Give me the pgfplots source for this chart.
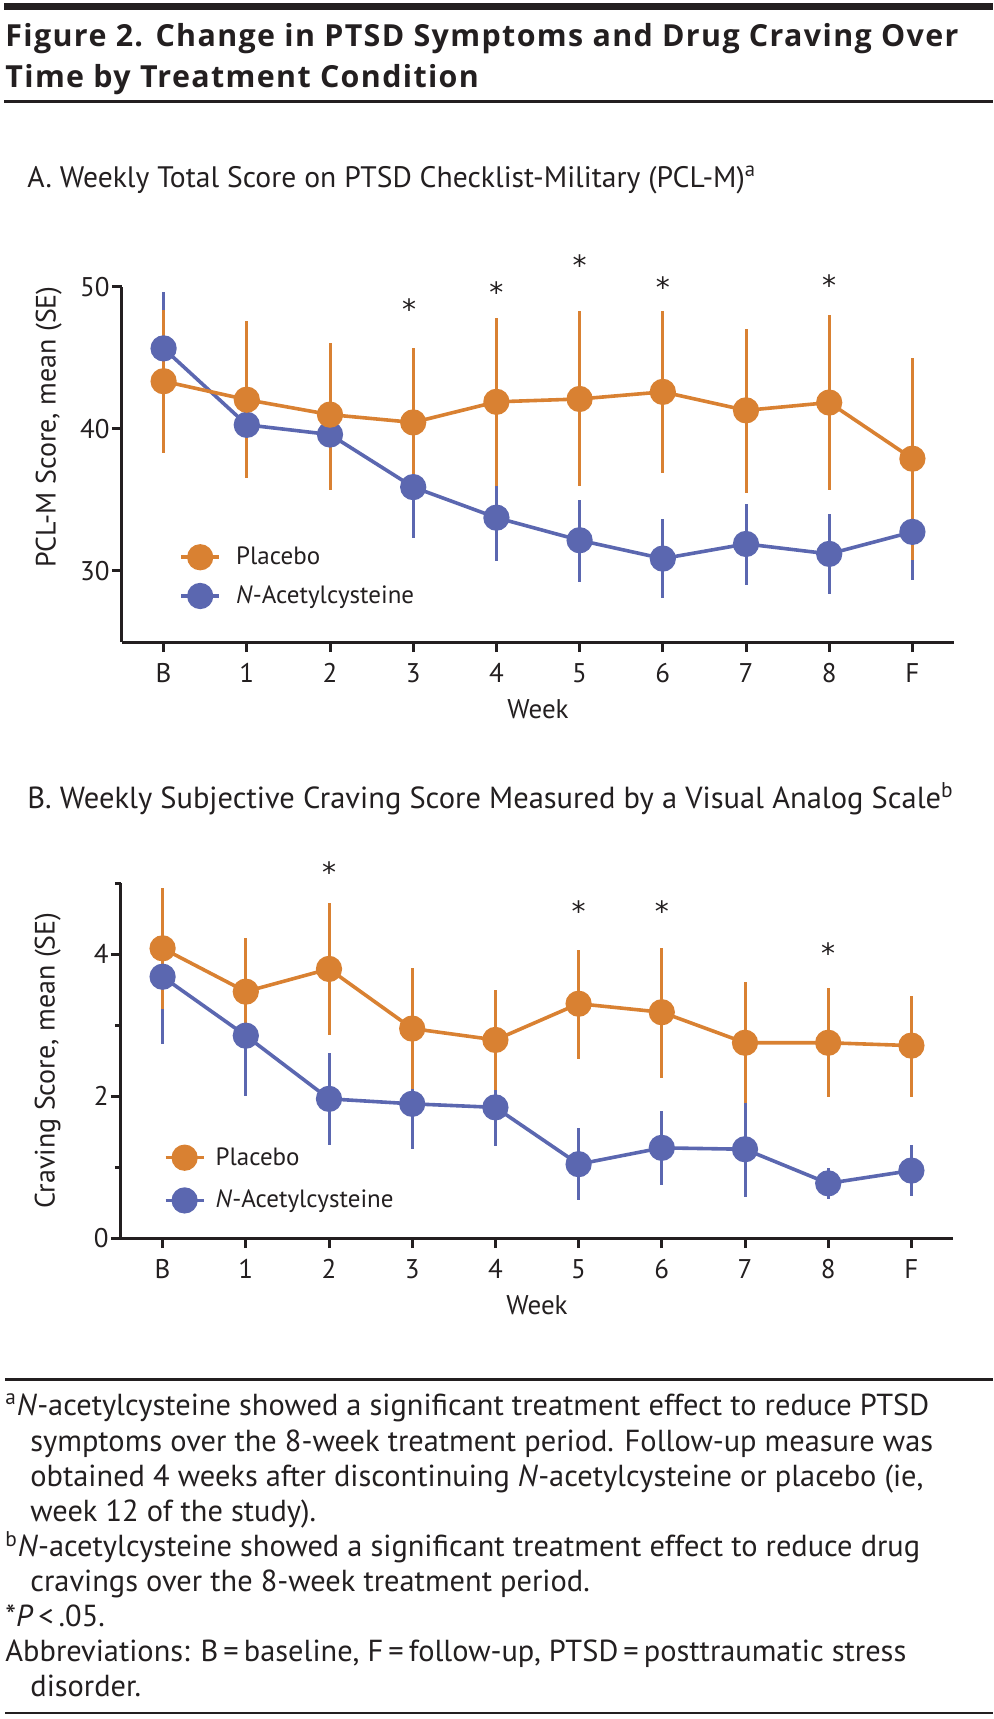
\documentclass[border=0pt]{standalone}
\usepackage{fontspec}
\setmainfont{PT Sans}
\newfontfamily\titlefont{Open Sans}[LetterSpace=4.5]
\newfontfamily\starfont{DejaVu Sans}
\usepackage{pgfplots}
\pgfplotsset{compat=1.18}

\definecolor{plac}{RGB}{217,129,50}
\definecolor{nac}{RGB}{91,103,176}
\definecolor{ink}{RGB}{35,31,32}

% 1 px of the reference = 0.5pt
\pgfplotsset{
  panel/.style={
    scale only axis, width=416pt,
    xmin=-0.5, xmax=9.5,
    axis x line*=bottom, axis y line*=left,
    axis line style={line width=1.5pt, ink},
    tick style={line width=1.5pt, ink},
    tick align=outside, major tick length=5pt, minor tick length=3pt,
    xtick={0,...,9}, xticklabels={B,1,2,3,4,5,6,7,8,F},
    /pgf/number format/assume math mode=true,
    tick label style={font=\fontsize{13.5}{15}\selectfont, text=ink},
    xticklabel style={anchor=base, yshift=-15pt},
    yticklabel style={anchor=east, inner sep=0pt, xshift=-1pt},
    xlabel={Week},
    xlabel style={at={(axis description cs:0.5,0)}, anchor=base, yshift=-38pt,
      font=\fontsize{13.5}{15}\selectfont, text=ink},
    ylabel style={anchor=center, font=\fontsize{14}{16}\selectfont, text=ink},
    clip=false,
    legend cell align=left, reverse legend,
    legend style={draw=none, fill=none, inner sep=0pt,
      font=\fontsize{12.5}{14}\selectfont, text=ink},
  },
  legend gap/.style={legend image code/.code={%
      \draw[##1, mark repeat=2, mark phase=2]
        plot coordinates {(0pt,0pt) (9.5pt,0pt) (19pt,0pt)};
      \path[draw=none, fill=none] (0pt,0pt) -- (19pt+#1,0pt);}},
  series/.style={#1, line width=1.8pt, mark=*, mark size=5.65pt,
    mark options={draw=none, fill=#1},
    error bars/.cd, y dir=both, y explicit, error mark=none,
    error bar style={line width=1.5pt, #1}},
}
\tikzset{star/.style={anchor=north, inner sep=0pt, font=\starfont\fontsize{14}{16}\selectfont, text=ink}}

\begin{document}
\begin{tikzpicture}
\path[use as bounding box] (0pt,0pt) rectangle (496.5pt,-859.5pt);

% rules and title
\draw[ink, line width=3.35pt] (2pt,-3.35pt) -- (496.5pt,-3.35pt);
\node[anchor=base west, inner sep=0pt, text=ink, font=\titlefont\fontsize{15.2}{18}\selectfont\bfseries]
  at (2.5pt,-23.35pt) {Figure 2. Change in PTSD Symptoms and Drug Craving Over};
\node[anchor=base west, inner sep=0pt, text=ink, font=\titlefont\fontsize{15.2}{18}\selectfont\bfseries]
  at (2.5pt,-43.5pt) {Time by Treatment Condition};
\draw[ink, line width=1.5pt] (2pt,-50.5pt) -- (496.5pt,-50.5pt);

% panel headings
\node[anchor=base west, inner sep=0pt, text=ink, font=\fontsize{14.8}{17}\selectfont]
  at (13.5pt,-93.5pt) {A. Weekly Total Score on PTSD Checklist-Military (PCL-M)\textsuperscript{a}};
\node[anchor=base west, inner sep=0pt, text=ink, font=\fontsize{15.25}{17}\selectfont]
  at (13.5pt,-404pt) {B. Weekly Subjective Craving Score Measured by a Visual Analog Scale\textsuperscript{b}};

% panel A
\begin{axis}[panel, at={(61pt,-321pt)}, anchor=south west, height=177.65pt,
  ymin=25, ymax=50, ytick={30,40,50},
  ylabel={PCL-M Score, mean (SE)},
  ylabel style={at={(axis description cs:-0.088,0.605)}},
  legend gap=6.5pt,
  legend style={at={(axis cs:0.185,29.6)}, anchor=west, row sep=5pt}]
\addplot[series=nac] coordinates {
  (0,45.66) +- (0,4.0)
  (1,40.28) +- (0,3.3)
  (2,39.6)  +- (0,3.4)
  (3,35.9)  +- (0,3.6)
  (4,33.75) +- (0,3.05)
  (5,32.16) += (0,2.85) -= (0,2.95)
  (6,30.87) +- (0,2.8)
  (7,31.9)  += (0,2.8) -= (0,2.9)
  (8,31.2)  +- (0,2.8)
  (9,32.75) +- (0,3.4)
};
\addlegendentry{\textit{N}-Acetylcysteine}
\addplot[series=plac] coordinates {
  (0,43.35) += (0,5.0) -= (0,5.05)
  (1,42.05) += (0,5.55) -= (0,5.5)
  (2,41.0)  += (0,5.05) -= (0,5.3)
  (3,40.45) +- (0,5.25)
  (4,41.9)  +- (0,5.9)
  (5,42.1)  += (0,6.2) -= (0,6.15)
  (6,42.6)  +- (0,5.7)
  (7,41.3)  += (0,5.7) -= (0,5.85)
  (8,41.85) +- (0,6.15)
  (9,37.9)  += (0,7.1) -= (0,7.15)
};
\addlegendentry{Placebo}
\node[star] at (axis cs:2.95,49.15) {*};
\node[star] at (axis cs:4,50.35) {*};
\node[star] at (axis cs:5,52.25) {*};
\node[star] at (axis cs:6,50.7) {*};
\node[star] at (axis cs:8,50.85) {*};
\end{axis}

% panel B
\begin{axis}[panel, at={(60.5pt,-619pt)}, anchor=south west, height=177.5pt,
  ymin=0, ymax=5, ytick={0,2,4}, minor ytick={1,3,5},
  ylabel={Craving Score, mean (SE)},
  ylabel style={at={(axis description cs:-0.088,0.5)}},
  legend gap=4pt,
  legend style={at={(axis cs:0.01,0.83)}, anchor=west, row sep=7pt}]
\addplot[series=nac] coordinates {
  (0,3.68) +- (0,0.95)
  (1,2.85) +- (0,0.85)
  (2,1.96) +- (0,0.645)
  (3,1.89) +- (0,0.64)
  (4,1.84) +- (0,0.55)
  (5,1.04) +- (0,0.51)
  (6,1.27) +- (0,0.525)
  (7,1.25) +- (0,0.67)
  (8,0.77) +- (0,0.215)
  (9,0.95) +- (0,0.36)
};
\addlegendentry{\textit{N}-Acetylcysteine}
\addplot[series=plac] coordinates {
  (0,4.08) +- (0,0.85)
  (1,3.47) +- (0,0.76)
  (2,3.79) +- (0,0.93)
  (3,2.95) +- (0,0.85)
  (4,2.79) +- (0,0.71)
  (5,3.30) += (0,0.75) -= (0,0.78)
  (6,3.18) += (0,0.90) -= (0,0.92)
  (7,2.75) +- (0,0.85)
  (8,2.75) +- (0,0.77)
  (9,2.71) += (0,0.70) -= (0,0.72)
};
\addlegendentry{Placebo}
\node[star] at (axis cs:2,5.30) {*};
\node[star] at (axis cs:5,4.76) {*};
\node[star] at (axis cs:6,4.76) {*};
\node[star] at (axis cs:8,4.17) {*};
\end{axis}

% footnotes
\draw[ink, line width=1.35pt] (2.5pt,-689.65pt) -- (496.5pt,-689.65pt);
\begin{scope}[every node/.style={anchor=base west, inner sep=0pt, text=ink,
    font=\fontsize{15.2}{17}\selectfont}]
\node at (2.5pt,-707.5pt) {\textsuperscript{a}\textit{N}-acetylcysteine showed a significant treatment effect to reduce PTSD};
\node at (15pt,-725.5pt) {symptoms over the 8-week treatment period. Follow-up measure was};
\node at (15pt,-743.35pt) {obtained 4 weeks after discontinuing \textit{N}-acetylcysteine or placebo (ie,};
\node at (15pt,-760.85pt) {week 12 of the study).};
\node at (2.5pt,-778.35pt) {\textsuperscript{b}\textit{N}-acetylcysteine showed a significant treatment effect to reduce drug};
\node at (15pt,-795.85pt) {cravings over the 8-week treatment period.};
\node at (2.5pt,-813.35pt) {*\textit{P}\,<\,.05.};
\node at (2.5pt,-830.85pt) {Abbreviations: B\,=\,baseline, F\,=\,follow-up, PTSD\,=\,posttraumatic stress};
\node at (15pt,-848.35pt) {disorder.};
\end{scope}
\draw[ink, line width=1.35pt] (2.5pt,-856.5pt) -- (496.5pt,-856.5pt);
\end{tikzpicture}
\end{document}
